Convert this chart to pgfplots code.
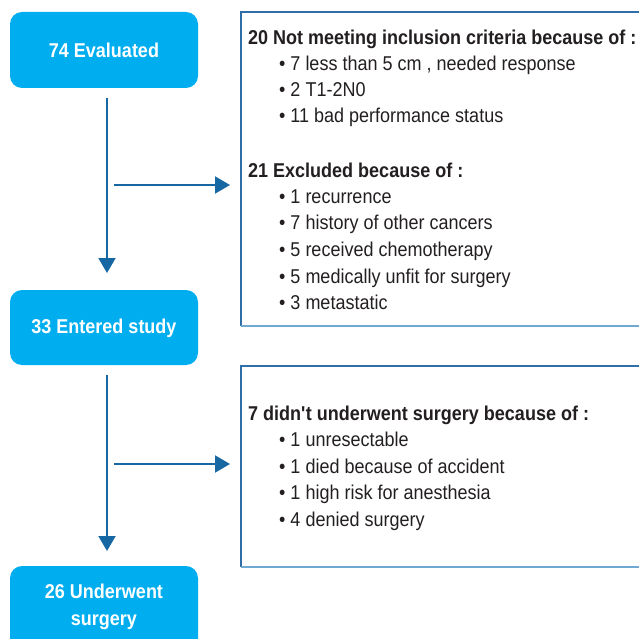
\documentclass[border=0pt]{standalone}
\usepackage{pgfplots}
\pgfplotsset{compat=1.18}
\usepackage{fontspec}
\setmainfont{Liberation Sans}[FakeStretch=0.9]
\usetikzlibrary{arrows.meta}
\definecolor{boxcyan}{HTML}{00AEEF}
\definecolor{arrowblue}{HTML}{1767A3}
\definecolor{frameblue}{HTML}{2F6EA6}
\definecolor{framelight}{HTML}{6FA8D0}
\definecolor{txt}{HTML}{231F20}
\begin{document}
\begin{tikzpicture}
\begin{axis}[name=ax, width=639pt, height=639pt, scale only axis,
  xmin=0, xmax=639, ymin=0, ymax=639, y dir=reverse, hide axis, clip=false]
% cyan boxes
\addplot[draw=none, fill=boxcyan, rounded corners=12pt] coordinates {(10,12) (198,12) (198,88) (10,88)} -- cycle;
\addplot[draw=none, fill=boxcyan, rounded corners=12pt] coordinates {(10,290) (198,290) (198,365) (10,365)} -- cycle;
\addplot[draw=none, fill=boxcyan, rounded corners=12pt] coordinates {(10,566) (198,566) (198,660) (10,660)} -- cycle;
% arrows
\addplot[arrowblue, line width=2pt, -{Triangle[length=15pt,width=17pt]}] coordinates {(107,98) (107,273)};
\addplot[arrowblue, line width=2pt, -{Triangle[length=15pt,width=17pt]}] coordinates {(107,375) (107,551)};
\addplot[arrowblue, line width=2pt, -{Triangle[length=15pt,width=17pt]}] coordinates {(114,185) (230,185)};
\addplot[arrowblue, line width=2pt, -{Triangle[length=15pt,width=17pt]}] coordinates {(114,464) (230,464)};
% right frames
\addplot[frameblue, line width=1.1pt] coordinates {(650,12) (241,12) (241,326)};
\addplot[framelight, line width=1.8pt] coordinates {(240.5,326) (650,326)};
\addplot[frameblue, line width=1.1pt] coordinates {(650,366) (241,366) (241,567)};
\addplot[framelight, line width=1.8pt] coordinates {(240.5,567) (650,567)};
% box texts
\node[text=white, font=\bfseries\fontsize{20}{27}\selectfont] at (axis cs:104,50) {74 Evaluated};
\node[text=white, font=\bfseries\fontsize{20}{27}\selectfont] at (axis cs:104,328) {33 Entered study};
\node[text=white, font=\bfseries\fontsize{20}{27}\selectfont, align=center] at (axis cs:104,607) {26 Underwent\\surgery};
% right texts
\tikzset{hd/.style={anchor=base west, text=txt, inner sep=0pt, font=\bfseries\fontsize{20}{20}\selectfont},
         it/.style={anchor=base west, text=txt, inner sep=0pt, font=\fontsize{20}{20}\selectfont}}
\node[hd] at (axis cs:248,45) {20 Not meeting inclusion criteria because of :};
\node[it] at (axis cs:279,71) {• 7 less than 5 cm , needed response};
\node[it] at (axis cs:279,97) {• 2 T1-2N0};
\node[it] at (axis cs:279,123) {• 11 bad performance status};
\node[hd] at (axis cs:248,177) {21 Excluded because of :};
\node[it] at (axis cs:279,203) {• 1 recurrence};
\node[it] at (axis cs:279,229) {• 7 history of other cancers};
\node[it] at (axis cs:279,256) {• 5 received chemotherapy};
\node[it] at (axis cs:279,283) {• 5 medically unfit for surgery};
\node[it] at (axis cs:279,309) {• 3 metastatic};
\node[hd] at (axis cs:248,420) {7 didn\textquotesingle t underwent surgery because of :};
\node[it] at (axis cs:279,446) {• 1 unresectable};
\node[it] at (axis cs:279,473) {• 1 died because of accident};
\node[it] at (axis cs:279,499) {• 1 high risk for anesthesia};
\node[it] at (axis cs:279,526) {• 4 denied surgery};
\end{axis}
\pgfresetboundingbox
\useasboundingbox (ax.south west) rectangle (ax.north east);
\end{tikzpicture}
\end{document}
